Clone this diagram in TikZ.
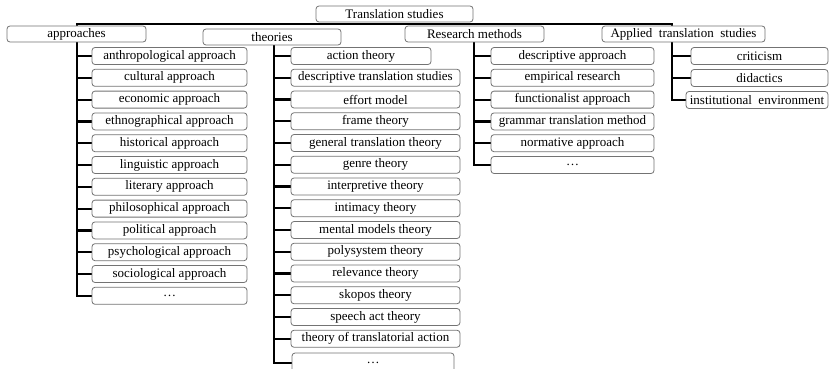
\documentclass[tikz,border=0pt]{standalone}
\usepackage{fontspec}
\setmainfont{Liberation Serif}
\usetikzlibrary{backgrounds}
\tikzset{
  box/.style={draw=black!55, line width=0.8pt, rounded corners=3pt, fill=white,
    inner sep=0pt, minimum height=17pt, font=\fontsize{13}{15}\selectfont},
  bar/.style={line width=2.2pt, black},
}
\begin{document}
\begin{tikzpicture}[x=1pt,y=-1pt]
\useasboundingbox (0,0) rectangle (829,369);
% top level
\node[box, minimum width=157pt, minimum height=16pt] (root) at (394.5,14) {Translation studies};
\node[box, minimum width=139pt, minimum height=16pt] (appr) at (76.5,34) {approaches};
\node[box, minimum width=138pt, minimum height=16pt] (theo) at (272,37) {theories};
\node[box, minimum width=139pt, minimum height=16pt] (meth) at (474.5,34) {Research methods};
\node[box, minimum width=163pt, minimum height=16pt] (appl) at (683.5,34) {Applied\ \ translation\ \ studies};
% approaches
\foreach \t [count=\i from 0] in {anthropological approach, cultural approach, economic approach, ethnographical approach, historical approach, linguistic approach, literary approach, philosophical approach, political approach, psychological approach, sociological approach, …}
  \node[box, minimum width=155pt] (a\i) at (169.5,{56+21.8*\i}) {\t};
% theories
\node[box, minimum width=140pt] (t0) at (361,56) {action theory};
\foreach \t [count=\i from 1] in {descriptive translation studies, effort model, frame theory, general translation theory, genre theory, interpretive theory, intimacy theory, mental models theory, polysystem theory, relevance theory, skopos theory, speech act theory, theory of translatorial action}
  \node[box, minimum width=169pt] (t\i) at (375.5,{56+21.75*\i}) {\t};
\node[box, minimum width=162pt, minimum height=20pt] (t14) at (373,363) {…};
% research methods
\foreach \t [count=\i from 0] in {descriptive approach, empirical research, functionalist approach, grammar translation method, normative approach, …}
  \node[box, minimum width=163pt] (m\i) at (572.5,{56+21.8*\i}) {\t};
% applied
\node[box, minimum width=137pt] (p0) at (759.5,56) {criticism};
\node[box, minimum width=137pt] (p1) at (759.5,78) {didactics};
\node[box, minimum width=142pt] (p2) at (757,100) {institutional\ \ environment};
% connectors
\coordinate (aX) at (77,24);
\coordinate (tX) at (274,40);
\coordinate (mX) at (474,42);
\coordinate (pX) at (672,24);
\begin{scope}[on background layer]
  \draw[bar] ([xshift=-1.1pt]aX) -- ([xshift=1.1pt]pX);
  \draw[bar] (aX) |- (a11.west);
  \foreach \i in {0,...,10} \draw[bar] (a\i.west) -- (a\i.west -| aX);
  \draw[bar] (tX) |- (t14.west);
  \foreach \i in {0,...,13} \draw[bar] (t\i.west) -- (t\i.west -| tX);
  \draw[bar] (mX) |- (m5.west);
  \foreach \i in {0,...,4} \draw[bar] (m\i.west) -- (m\i.west -| mX);
  \draw[bar] (pX) |- (p2.west);
  \foreach \i in {0,1} \draw[bar] (p\i.west) -- (p\i.west -| pX);
\end{scope}
\end{tikzpicture}
\end{document}
